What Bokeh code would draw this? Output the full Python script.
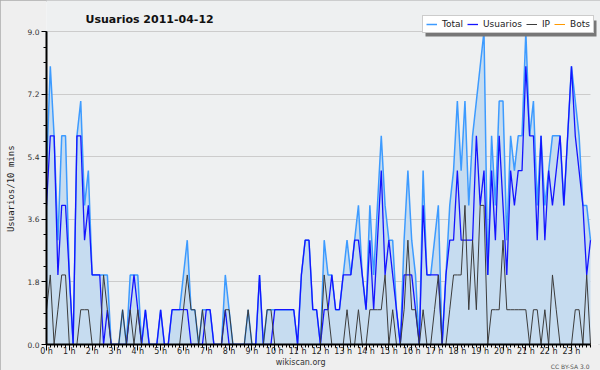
import numpy as np
from bokeh.plotting import figure
from bokeh.models import (Range1d, FixedTicker, NumeralTickFormatter, Legend,
                          LegendItem, Label, Title, BoxAnnotation, ColumnDataSource)
from bokeh.embed import file_html
from bokeh.resources import INLINE

title_text = "Usuarios  2011-04-12"
y_label = "Usuarios/10 mins"
source_text = "wikiscan.org"
license_text = "CC BY-SA 3.0"
series_names = ["Total", "Usuarios", "IP", "Bots"]
hour_ticks = list(range(24))
hour_labels = [f"{h} h" for h in hour_ticks]
y_ticks = [0.0, 1.8, 3.6, 5.4, 7.2, 9.0]

total = [5, 8, 6, 3, 6, 6, 2, 0, 6, 7, 4, 5, 2, 2, 2, 2, 2, 0, 0, 0,
         1, 0, 2, 2, 2, 0, 1, 0, 0, 0, 1, 0, 0, 1, 1, 1, 2, 3, 1, 1,
         0, 1, 1, 1, 0, 0, 0, 2, 1, 0, 0, 0, 0, 1, 0, 0, 2, 0, 1, 1,
         1, 1, 1, 1, 1, 1, 0, 2, 3, 3, 1, 1, 0, 3, 2, 2, 1, 1, 2, 3,
         2, 3, 4, 2, 1, 4, 2, 4, 6, 4, 3, 3, 1, 0, 3, 5, 3, 2, 0, 5,
         2, 2, 3, 4, 0, 2, 4, 5, 7, 5, 7, 4, 6, 7, 8, 9, 2, 6, 4, 7,
         7, 3, 6, 5, 6, 6, 9, 6, 7, 4, 6, 4, 5, 6, 6, 6, 4, 6, 8, 7,
         6, 4, 4, 3]

usuarios = [4, 6, 6, 2, 4, 4, 2, 0, 6, 6, 3, 4, 2, 2, 2, 0, 1, 0, 0, 0,
            0, 0, 1, 2, 1, 0, 1, 0, 0, 0, 1, 0, 0, 1, 1, 1, 1, 1, 0, 0,
            0, 0, 1, 1, 0, 0, 0, 1, 0, 0, 0, 0, 0, 0, 0, 0, 2, 0, 0, 0,
            1, 1, 1, 1, 1, 1, 0, 2, 3, 3, 1, 1, 0, 1, 1, 2, 1, 1, 2, 2,
            2, 3, 3, 2, 1, 3, 1, 3, 5, 2, 3, 2, 1, 0, 2, 2, 2, 1, 0, 4,
            2, 2, 2, 2, 0, 2, 3, 3, 5, 3, 3, 3, 3, 6, 4, 5, 2, 5, 3, 6,
            4, 2, 5, 4, 5, 5, 8, 6, 6, 3, 6, 3, 5, 4, 5, 6, 4, 6, 8, 6,
            5, 4, 2, 3]

ip = [1, 2, 0, 1, 2, 2, 0, 0, 0, 1, 1, 1, 0, 0, 0, 2, 1, 0, 0, 0,
      1, 0, 1, 0, 1, 0, 0, 0, 0, 0, 0, 0, 0, 0, 0, 0, 1, 2, 1, 1,
      0, 1, 0, 0, 0, 0, 0, 1, 1, 0, 0, 0, 0, 1, 0, 0, 0, 0, 1, 1,
      0, 0, 0, 0, 0, 0, 0, 0, 0, 0, 0, 0, 0, 2, 1, 0, 0, 0, 0, 1,
      0, 0, 1, 0, 0, 1, 1, 1, 1, 2, 0, 1, 0, 0, 1, 3, 1, 1, 0, 1,
      0, 0, 1, 2, 0, 0, 1, 2, 2, 2, 4, 1, 3, 1, 4, 4, 0, 1, 1, 1,
      3, 1, 1, 1, 1, 1, 1, 0, 1, 1, 0, 1, 0, 2, 1, 0, 0, 0, 0, 1,
      1, 0, 2, 0]

bots = [0] * 144

x = np.arange(len(total)) / 6.0  # 10-minute steps, in hours
src = ColumnDataSource(dict(x=x, total=total, usuarios=usuarios, ip=ip, bots=bots))

# geometry (pixels). The frame is stretched to the top and right edges of the
# canvas so the title and the legend (which overhang the value area) are not
# clipped; the data band itself runs x: 46..590, y: 31..344.
W, H = 600, 370
LEFT, DATA_RIGHT, DATA_TOP, BOTTOM = 46, 590, 31, 344
y_end = y_ticks[-1] * (BOTTOM - 0) / (BOTTOM - DATA_TOP)
x_end = x[-1] * (W - LEFT) / (DATA_RIGHT - LEFT)

p = figure(width=W, height=H, output_backend="svg", toolbar_location=None,
           x_range=Range1d(0, x_end), y_range=Range1d(0, y_end),
           min_border_left=LEFT, min_border_right=0, min_border_top=0,
           min_border_bottom=H - BOTTOM, background_fill_color="#eef0f1",
           border_fill_color="#efefef", outline_line_color=None)
p.styles = {"outline": "2px solid #ababab", "outline-offset": "-2px"}

p.varea(x="x", y1=0, y2="total", source=src, fill_color="#c6dcf0")
r_total = p.line("x", "total", source=src, line_color="#3d9bff", line_width=1.5)
r_usu = p.line("x", "usuarios", source=src, line_color="#1414ff", line_width=1.3)
r_ip = p.line("x", "ip", source=src, line_color="#3c3c3c", line_width=1)
r_bots = p.line("x", "bots", source=src, line_color="#ff9900", line_width=1)

# x axis
xa = p.xaxis[0]
xa.bounds = (0, x[-1])
xa.ticker = FixedTicker(ticks=hour_ticks, minor_ticks=list(x))
xa.major_label_overrides = {h: lab for h, lab in zip(hour_ticks, hour_labels)}
xa.major_tick_out = 6
xa.major_tick_in = 0
xa.minor_tick_out = 3
xa.minor_tick_in = 0
xa.major_label_standoff = -4
xa.major_label_text_font = "DejaVu Sans"
xa.major_label_text_font_size = "8px"
xa.major_label_text_color = "#222222"
# source credit under the axis, centred on the canvas (padding shifts it left)
xa.axis_label = source_text + "\u00a0" * 18
xa.axis_label_text_font = "DejaVu Sans"
xa.axis_label_text_font_size = "8px"
xa.axis_label_text_font_style = "normal"
xa.axis_label_text_color = "#333333"
xa.axis_label_standoff = -1

# y axis
ya = p.yaxis[0]
ya.bounds = (y_ticks[0], y_ticks[-1])
ya.ticker = FixedTicker(ticks=y_ticks, minor_ticks=[i * 0.45 for i in range(21)])
ya.formatter = NumeralTickFormatter(format="0.0")
ya.major_tick_out = 5
ya.major_tick_in = 0
ya.minor_tick_out = 3
ya.minor_tick_in = 0
ya.major_label_standoff = 2
ya.major_label_text_font = "DejaVu Sans"
ya.major_label_text_font_size = "7.5px"
ya.major_label_text_color = "#333333"
ya.axis_label = y_label + "\u00a0" * 6
ya.axis_label_text_font = "DejaVu Sans Mono"
ya.axis_label_text_font_size = "9px"
ya.axis_label_text_font_style = "normal"
ya.axis_label_text_color = "#222222"
ya.axis_label_standoff = 9

for ax in (xa, ya):
    ax.axis_line_color = "black"
    ax.axis_line_width = 2
    ax.major_tick_line_color = "black"
    ax.minor_tick_line_color = "black"

p.xgrid.visible = False
p.ygrid.grid_line_color = "#cccccc"
p.ygrid.grid_line_width = 1
try:
    p.ygrid.cross_bounds = (0, x[-1])
except Exception:
    pass

# legend drop shadow (a plain box offset 3px right/down behind the legend)
p.add_layout(BoxAnnotation(left=379, right=550, bottom=308, top=324,
                           left_units="screen", right_units="screen",
                           bottom_units="screen", top_units="screen",
                           fill_color="#777777", fill_alpha=1, line_color=None))

renderers = [r_total, r_usu, r_ip, r_bots]
legend = Legend(items=[LegendItem(label=n, renderers=[r]) for n, r in zip(series_names, renderers)],
                location=(376, 311), orientation="horizontal",
                label_text_font="DejaVu Sans", label_text_font_size="9px",
                glyph_width=11, glyph_height=10, label_height=10, label_width=0,
                label_standoff=5, spacing=4, padding=3, margin=0,
                background_fill_color="white", background_fill_alpha=1,
                border_line_color="#999999", border_line_width=1,
                label_text_color="#222222")
p.add_layout(legend)

# chart title (inside the frame, above the 9.0 line)
p.add_layout(Label(x=39, y=325, x_units="screen", y_units="screen", text=title_text,
                   text_font="DejaVu Sans", text_font_style="bold",
                   text_font_size="11px", text_color="#111111",
                   text_baseline="alphabetic"))

# licence note, bottom right
p.add_layout(Title(text=license_text, align="right", offset=11, vertical_align="top",
                   standoff=-13, text_font="DejaVu Sans", text_font_size="6px",
                   text_font_style="normal", text_color="#555555"), "below")

open("out.html", "w").write(file_html(p, INLINE))
